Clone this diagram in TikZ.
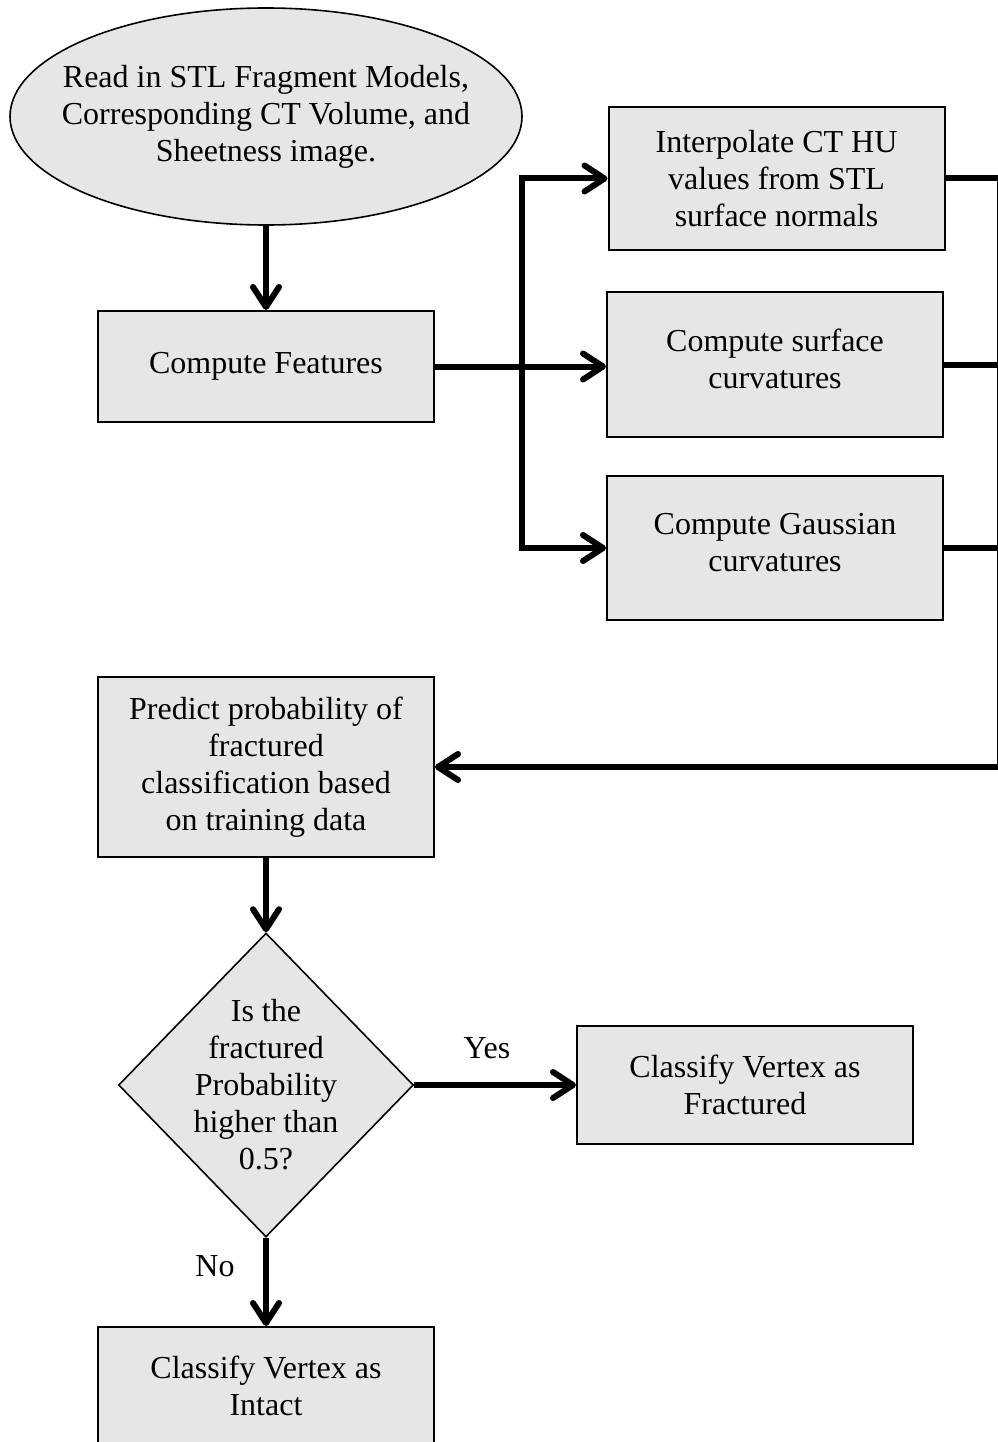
\documentclass[tikz,border=0pt]{standalone}
\usepackage{fontspec}
\setmainfont{Liberation Serif}
\usetikzlibrary{shapes.geometric,arrows.meta}
\definecolor{boxfill}{RGB}{230,230,230}
\tikzset{
  every node/.style={font=\fontsize{32}{37}\selectfont},
  procbox/.style={draw=black, line width=2pt, fill=boxfill, align=center, inner sep=0pt, minimum width=336pt},
  startell/.style={draw=black, line width=1.6pt, fill=boxfill, ellipse, align=center, inner xsep=-60pt, inner ysep=-30pt, minimum width=512pt, minimum height=217pt},
  decision/.style={draw=black, line width=1.6pt, fill=boxfill, diamond, inner sep=-80pt, minimum width=295pt, minimum height=304pt},
  conn/.style={line width=6pt},
  arr/.style={line width=6pt, -{Straight Barb[length=20pt, width=26pt, round]}},
  lbl/.style={inner sep=0pt}
}
\begin{document}
\begin{tikzpicture}[x=1pt, y=-1pt]
\useasboundingbox (0,0) rectangle (997,1442);
\node[startell] (el) at (266,116.5) {Read in STL Fragment Models,\\Corresponding CT Volume, and\\Sheetness image.};
\node[procbox, minimum height=111pt] (cf) at (266,366.5) {Compute Features};
\node[procbox, minimum height=143pt] (b1) at (776.5,178.5) {Interpolate CT HU\\values from STL\\surface normals};
\node[procbox, minimum height=145pt] (b2) at (775,364.5) {Compute surface\\curvatures\\[-25pt]};
\node[procbox, minimum height=144pt] (b3) at (775,548) {Compute Gaussian\\curvatures\\[-25pt]};
\node[procbox, minimum height=180pt] (pred) at (266,767) {Predict probability of\\fractured\\classification based\\on training data};
\node[decision] (dia) at (266,1085) {};
\node[align=center] (dtext) at (dia.center) {Is the\\fractured\\Probability\\higher than\\0.5?};
\node[procbox, minimum height=118pt] (frac) at (745,1085) {Classify Vertex as\\Fractured};
\node[procbox, minimum height=118pt] (intact) at (266,1386) {Classify Vertex as\\Intact};
\node[lbl] (yes) at (487,1048) {Yes};
\node[lbl] (no) at (215,1266) {No};
\coordinate (bus) at (522,0);
\coordinate (rbus) at (999.5,0);
% connectors
\draw[arr] (el.south) -- (cf.north);
\draw[arr] (cf.east) -- (cf.east -| b2.west);
\draw[arr] (cf.east -| bus) |- (b1.west);
\draw[arr] (cf.east -| bus) |- (b3.west);
\draw[conn] (b1.east) -- (b1.east -| rbus);
\draw[conn] (b2.east) -- (b2.east -| rbus);
\draw[conn] (b3.east) -- (b3.east -| rbus);
\draw[arr] ([yshift=3pt]b1.east -| rbus) |- (pred.east);
\draw[arr] (pred.south) -- (dia.north);
\draw[arr] (dia.east) -- (frac.west);
\draw[arr] (dia.south) -- (intact.north);
\end{tikzpicture}
\end{document}
